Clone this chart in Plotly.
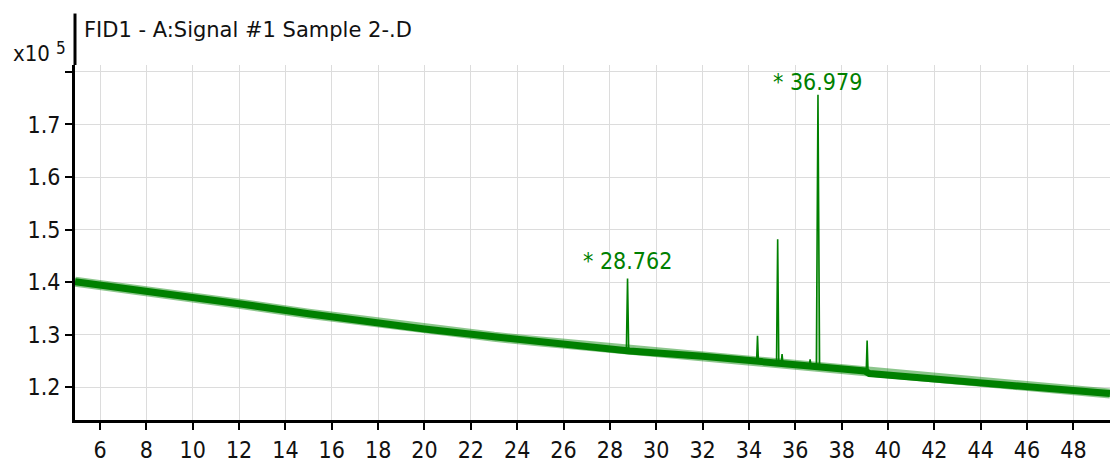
import plotly.graph_objects as go

# Baseline of the chromatogram (retention time in min, signal in x10^5)
base_rt = [4.92, 8.0, 12.0, 15.0, 18.0, 20.0, 23.0, 25.0, 28.7, 28.85, 32.0, 34.2,
           36.0, 38.0, 39.0, 39.2, 42.0, 46.0, 49.58]
base_sig = [1.401, 1.384, 1.359, 1.340, 1.322, 1.311, 1.296, 1.287, 1.272, 1.269,
            1.259, 1.250, 1.243, 1.235, 1.231, 1.226, 1.2157, 1.201, 1.188]

# Peaks
peak_rt = [28.762, 34.37, 35.24, 35.43, 36.64, 36.979, 39.10]
peak_top = [1.407, 1.298, 1.4817, 1.263, 1.253, 1.7566, 1.289]
peak_base = [1.271, 1.248, 1.245, 1.244, 1.240, 1.239, 1.229]
peak_halfwidth = [0.05, 0.04, 0.05, 0.04, 0.04, 0.07, 0.04]

# Labelled peaks
label_rt = [28.762, 36.979]
label_text = ["* 28.762", "* 36.979"]
label_y = [1.4396, 1.781]

y_ticks = [1.2, 1.3, 1.4, 1.5, 1.6, 1.7, 1.8]
y_ticktext = ["1.2", "1.3", "1.4", "1.5", "1.6", "1.7", ""]

GREEN = "rgb(0,128,0)"
FONT = "DejaVu Sans Condensed, DejaVu Sans, sans-serif"
FONT_W = "DejaVu Sans, sans-serif"

fig = go.Figure()
fig.add_trace(go.Scatter(x=base_rt, y=base_sig, mode="lines",
                         line=dict(color="rgba(0,128,0,0.45)", width=10),
                         hoverinfo="skip"))
fig.add_trace(go.Scatter(x=base_rt, y=base_sig, mode="lines",
                         line=dict(color=GREEN, width=7), hoverinfo="skip"))

px, py = [], []
for rt, top, b, hw in zip(peak_rt, peak_top, peak_base, peak_halfwidth):
    px += [rt - hw, rt, rt + hw, None]
    py += [b, top, b, None]
fig.add_trace(go.Scatter(x=px, y=py, mode="lines", fill="toself",
                         fillcolor="rgba(0,128,0,0.25)",
                         line=dict(color=GREEN, width=1.6), hoverinfo="skip"))

for rt, yy, txt in zip(label_rt, label_y, label_text):
    fig.add_annotation(x=rt, y=yy, xref="x", yref="y", text=txt, showarrow=False,
                       font=dict(family=FONT, size=23, color=GREEN),
                       xanchor="center", yanchor="middle")

fig.add_annotation(x=0.0068, y=1.098, xref="paper", yref="paper",
                   text="FID1 - A:Signal #1 Sample 2-.D", showarrow=False,
                   xanchor="left", yanchor="middle",
                   font=dict(family=FONT_W, size=21, color="#111"))
fig.add_annotation(x=-0.0222, y=1.032, xref="paper", yref="paper", text="x10",
                   showarrow=False, xanchor="right", yanchor="middle",
                   font=dict(family=FONT, size=22, color="#111"))
fig.add_annotation(x=-0.0205, y=1.047, xref="paper", yref="paper", text="5",
                   showarrow=False, xanchor="left", yanchor="middle",
                   font=dict(family=FONT, size=17, color="#111"))

fig.add_shape(type="line", xref="paper", yref="paper", x0=0, x1=0, y0=1, y1=1.145,
              line=dict(color="black", width=3))

fig.update_layout(
    width=1110, height=463,
    margin=dict(l=75, r=0, t=65, b=40),
    paper_bgcolor="white", plot_bgcolor="white",
    showlegend=False,
    xaxis=dict(range=[4.92, 49.58], tick0=0, dtick=2, showgrid=True,
               gridcolor="#dcdcdc", gridwidth=1, showline=True, linecolor="black",
               linewidth=3, ticks="outside", ticklen=7, tickcolor="black", tickwidth=1.5,
               tickfont=dict(family=FONT, size=23, color="#111"), zeroline=False),
    yaxis=dict(range=[1.1377, 1.8132], tickvals=y_ticks, ticktext=y_ticktext,
               showgrid=True, gridcolor="#dcdcdc", gridwidth=1, showline=True,
               linecolor="black", linewidth=3, ticks="outside", ticklen=7,
               tickcolor="black", tickwidth=1.5,
               tickfont=dict(family=FONT, size=23, color="#111"), zeroline=False),
)

fig.write_html("out.html", config={"displayModeBar": False},
               post_script="document.body.style.margin='0';")
